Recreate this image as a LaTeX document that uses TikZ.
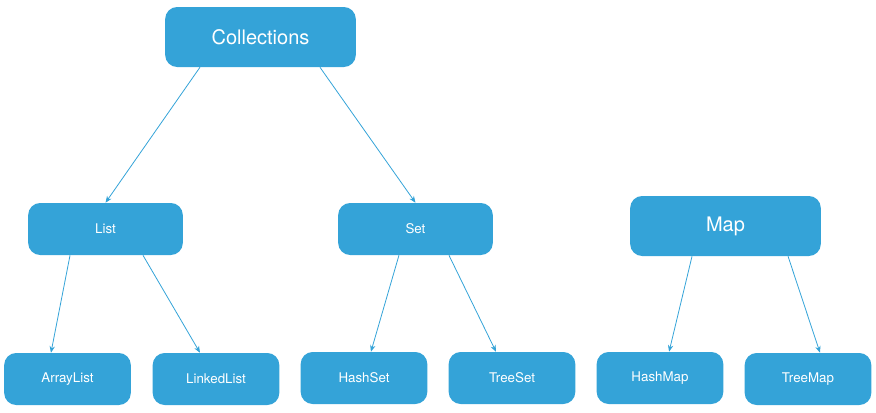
\documentclass[tikz,border=0pt]{standalone}
\usepackage{fontspec}
\setmainfont{TeX Gyre Heros}
\usetikzlibrary{arrows.meta}
\definecolor{collblue}{RGB}{52, 163, 216}

\begin{document}
\begin{tikzpicture}[x=0.75pt, y=-0.75pt,
      big/.style={rectangle, fill=collblue, rounded corners=9pt, minimum width=143pt, minimum height=45pt, text=white, font=\fontsize{15}{18}\selectfont, inner sep=0pt},
      mid/.style={rectangle, fill=collblue, rounded corners=9pt, minimum width=116pt, minimum height=39pt, text=white, font=\fontsize{10}{12}\selectfont, inner sep=0pt},
      leaf/.style={rectangle, fill=collblue, rounded corners=9pt, minimum width=95pt, minimum height=39pt, text=white, font=\fontsize{10}{12}\selectfont, inner sep=0pt},
      link/.style={-{Stealth[length=5pt, width=4pt]}, collblue, line width=0.6pt}
    ]
      \useasboundingbox (0, 0) rectangle (876, 412);

      \node[big] (coll) at (260.5, 37) {Collections};

      \node[mid] (list) at (105.5, 229) {List};
      \node[mid] (set) at (415.5, 229) {Set};
      \node[big] (map) at (725.5, 226) {Map};

      \node[leaf] (alist) at (67.5, 379) {ArrayList};
      \node[leaf] (llist) at (216, 379) {LinkedList};
      \node[leaf] (hset) at (364, 378) {HashSet};
      \node[leaf] (tset) at (512, 378) {TreeSet};
      \node[leaf] (hmap) at (660, 378) {HashMap};
      \node[leaf] (tmap) at (808, 379) {TreeMap};

      \draw[link] ([xshift=-45.4pt]coll.south) -- (list.north);
      \draw[link] ([xshift=44.6pt]coll.south) -- (set.north);

      \draw[link] ([xshift=-26.6pt]list.south) -- ([xshift=-12.4pt]alist.north);
      \draw[link] ([xshift=28.1pt]list.south) -- ([xshift=-12pt]llist.north);
      \draw[link] ([xshift=-12.4pt]set.south) -- ([xshift=5.2pt]hset.north);
      \draw[link] ([xshift=25.1pt]set.south) -- ([xshift=-12pt]tset.north);
      \draw[link] ([xshift=-25.1pt]map.south) -- ([xshift=6.8pt]hmap.north);
      \draw[link] ([xshift=46.9pt]map.south) -- ([xshift=9pt]tmap.north);
    \end{tikzpicture}
\end{document}
